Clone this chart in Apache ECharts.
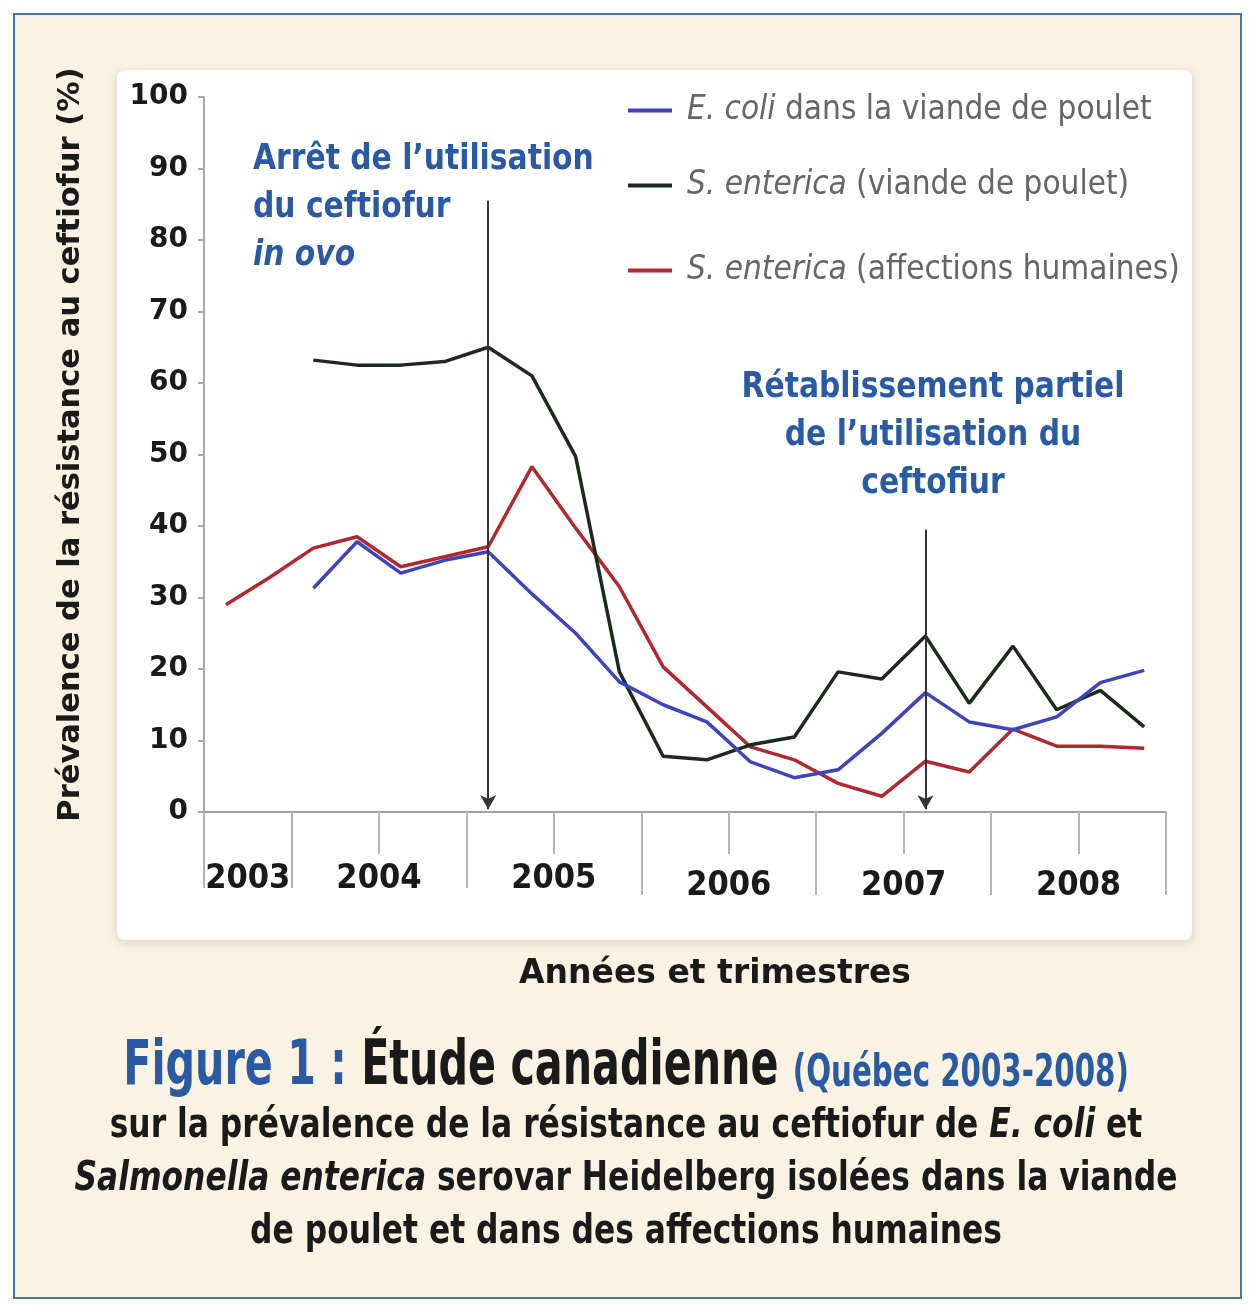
<!DOCTYPE html>
<html><head><meta charset="utf-8">
<script src="https://cdn.jsdelivr.net/npm/echarts@6/dist/echarts.min.js"></script>
<style>html,body{margin:0;padding:0;background:#fff}#c{width:1256px;height:1312px}</style>
</head><body><div id="c"></div>
<script>
const categories = ['2003-T3','2003-T4','2004-T1','2004-T2','2004-T3','2004-T4','2005-T1','2005-T2','2005-T3','2005-T4','2006-T1','2006-T2','2006-T3','2006-T4','2007-T1','2007-T2','2007-T3','2007-T4','2008-T1','2008-T2','2008-T3','2008-T4'];
const ecoliViande = [null,null,31.3,37.8,33.4,35.2,36.4,30.5,25,18.2,15,12.6,7,4.8,5.9,11,16.7,12.6,11.5,13.3,18.1,19.8];
const entericaViande = [null,null,63.2,62.5,62.5,63,65,61,49.7,19.6,7.8,7.3,9.4,10.5,19.6,18.6,24.6,15.2,23.2,14.3,17,11.9];
const entericaHumain = [29,32.8,36.9,38.5,34.3,35.7,37.1,48.3,39.7,31.5,20.3,14.7,9.1,7.3,4,2.2,7.1,5.6,11.6,9.2,9.2,8.9];
const years = ['2003','2004','2005','2006','2007','2008'];
const yearLabelAt = [1,4,8,12,16,20];
const yearBounds = [0,2,6,10,14,18,22];
const eventArret = '2005-T1';
const eventRetab = '2007-T3';

const COND = '"Liberation Sans Narrow","DejaVu Sans Condensed","Roboto",sans-serif';
const BOLD = '"DejaVu Sans",sans-serif';
const BLUE_TXT = '#2a5aa6';

const chart = echarts.init(document.getElementById('c'), null, {renderer:'canvas'});
const yearLabel = v => { const i = yearLabelAt.indexOf(Math.round(v)); return i>=0 ? years[i] : ''; };

const richL = {
  i:{fontFamily:COND, fontSize:33, color:'#666', fontStyle:'italic', padding:[0,0,0,10]},
  n:{fontFamily:COND, fontSize:33, color:'#666'}
};
const legendBase = (top, name, fmt) => ({
  show:true, left:628, top:top, orient:'vertical', data:[name], padding:0,
  itemWidth:44, itemHeight:4, icon:'rect', formatter:fmt,
  textStyle:{fontFamily:COND, fontSize:33, color:'#666', rich:richL},
});
const nE = 'E. coli dans la viande de poulet';
const nV = 'S. enterica (viande de poulet)';
const nH = 'S. enterica (affections humaines)';

const annRich = {
  a:{fontFamily:COND, fontWeight:'bold', fontSize:36, fill:BLUE_TXT, lineHeight:48},
  b:{fontFamily:COND, fontWeight:'bold', fontStyle:'italic', fontSize:36, fill:BLUE_TXT, lineHeight:48}
};

const option = {
  backgroundColor:'#fff',
  animation:false,
  graphic:[
    {type:'rect', left:13, top:13, z:-10, shape:{width:1227, height:1284}, style:{fill:'#faf3e3', stroke:'#4a70b8', lineWidth:2}},
    {type:'rect', left:117, top:70, z:-9, shape:{width:1075, height:870, r:8}, style:{fill:'#fff', shadowBlur:10, shadowColor:'rgba(120,100,60,0.25)', shadowOffsetY:2}},
    {type:'group', x:253, y:136, scaleX:0.92, z:10, children:[
      {type:'text', x:0, y:0, style:{text:'{a|Arrêt de l’utilisation}\n{a|du ceftiofur}\n{b|in ovo}', rich:annRich}}]},
    {type:'group', x:933, y:364, scaleX:0.92, z:10, children:[
      {type:'text', x:0, y:0, style:{text:'Rétablissement partiel\nde l’utilisation du\nceftofiur', align:'center',
        font:'bold 36px '+COND, fill:BLUE_TXT, lineHeight:48}}]},
    {type:'group', x:626, y:1037, scaleX:0.74, z:10, children:[
      {type:'text', x:0, y:0, style:{align:'center',
        text:'{a|Figure 1 : }{b|Étude canadienne }{c|(Québec 2003-2008)}',
        rich:{a:{fontFamily:COND, fontWeight:'bold', fontSize:62, fill:'#2b5aa5'},
              b:{fontFamily:COND, fontWeight:'bold', fontSize:62, fill:'#1a1a1a'},
              c:{fontFamily:COND, fontWeight:'bold', fontSize:44, fill:'#2b5aa5', padding:[14,0,0,0]}}}}]},
    {type:'group', x:626, y:1100, scaleX:0.85, z:10, children:[
      {type:'text', x:0, y:0, style:{align:'center',
        text:'{n|sur la prévalence de la résistance au ceftiofur de }{i|E. coli}{n| et}\n{i|Salmonella enterica}{n| serovar Heidelberg isolées dans la viande}\n{n|de poulet et dans des affections humaines}',
        rich:{n:{fontFamily:COND, fontWeight:'bold', fontSize:41, fill:'#1a1a1a', lineHeight:53},
              i:{fontFamily:COND, fontStyle:'italic', fontWeight:'bold', fontSize:41, fill:'#1a1a1a', lineHeight:53}}}}]}
  ],
  title:[
    {left:710, top:953, textAlign:'center', text:'Années et trimestres',
     textStyle:{fontFamily:BOLD, fontWeight:'bold', fontSize:33, color:'#1a1a1a'}}
  ],
  legend:[
    legendBase(94, nE, ()=>'{i|E. coli} {n|dans la viande de poulet}'),
    legendBase(169, nV, ()=>'{i|S. enterica} {n|(viande de poulet)}'),
    legendBase(254, nH, ()=>'{i|S. enterica} {n|(affections humaines)}')
  ],
  grid:{left:204, top:97, width:962, height:715, containLabel:false},
  xAxis:[
    {type:'category', data:categories, boundaryGap:true,
     axisLine:{show:true, lineStyle:{color:'#a0a0a0', width:2}},
     axisTick:{show:true, length:42, lineStyle:{color:'#b4b4b4', width:2}},
     axisLabel:{show:false}, splitLine:{show:false}},
    {type:'value', min:0, max:22, position:'bottom',
     axisLine:{show:false}, splitLine:{show:false},
     axisTick:{show:true, length:76, customValues:yearBounds.filter(v=>v<=6), lineStyle:{color:'#b4b4b4', width:2}},
     axisLabel:{show:true, margin:50, customValues:yearLabelAt.slice(0,3), formatter:yearLabel,
                fontFamily:COND, fontWeight:'bold', fontSize:34, color:'#1a1a1a'}},
    {type:'value', min:0, max:22, position:'bottom',
     axisLine:{show:false}, splitLine:{show:false},
     axisTick:{show:true, length:83, customValues:yearBounds.filter(v=>v>6), lineStyle:{color:'#b4b4b4', width:2}},
     axisLabel:{show:true, margin:57, customValues:yearLabelAt.slice(3), formatter:yearLabel,
                fontFamily:COND, fontWeight:'bold', fontSize:34, color:'#1a1a1a'}}
  ],
  yAxis:{type:'value', min:0, max:100, interval:10,
    name:'Prévalence de la résistance au ceftiofur (%)', nameLocation:'middle', nameGap:117, nameRotate:90,
    nameTextStyle:{fontFamily:BOLD, fontWeight:'bold', fontSize:30.5, color:'#1a1a1a', padding:[0,0,0,20]},
    axisLine:{show:true, lineStyle:{color:'#a8a8a8', width:2}},
    axisTick:{show:true, length:6, lineStyle:{color:'#a8a8a8', width:2}},
    axisLabel:{margin:16, fontFamily:BOLD, fontWeight:'bold', fontSize:28, color:'#1a1a1a', padding:[4,0,0,0]},
    splitLine:{show:false}},
  series:[
    {name:nE, type:'line', data:ecoliViande, showSymbol:false, symbol:'none', color:'#3e44bd',
     lineStyle:{width:3.5, color:'#3e44bd'}, z:3},
    {name:nV, type:'line', data:entericaViande, showSymbol:false, symbol:'none', color:'#1c2a1c',
     lineStyle:{width:3.5, color:'#1c2a1c'}, z:2,
     markLine:{silent:true, symbol:['none','arrow'], symbolSize:[12,14], label:{show:false},
       lineStyle:{color:'#333', width:2, type:'solid'},
       data:[
         [{coord:[eventArret, 85.5]},{coord:[eventArret, 0.4]}],
         [{coord:[eventRetab, 39.5]},{coord:[eventRetab, 0.4]}]
       ]}},
    {name:nH, type:'line', data:entericaHumain, showSymbol:false, symbol:'none', color:'#b3272e',
     lineStyle:{width:3.5, color:'#b3272e'}, z:1}
  ]
};
chart.setOption(option);
</script></body></html>
